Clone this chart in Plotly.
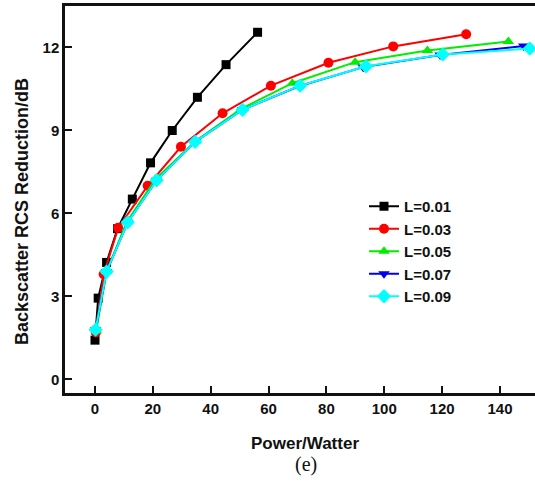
import plotly.graph_objects as go

# Data
x_l001 = [0, 1.1, 4.0, 7.8, 12.9, 19.2, 26.7, 35.4, 45.3, 56.2]
y_l001 = [1.42, 2.94, 4.23, 5.45, 6.52, 7.83, 9.0, 10.2, 11.38, 12.55]

x_l003 = [0.3, 3.0, 8.0, 18.2, 29.7, 44.1, 60.8, 80.7, 103.1, 128.3]
y_l003 = [1.7, 3.8, 5.48, 7.0, 8.41, 9.62, 10.62, 11.45, 12.04, 12.48]

x_l005 = [0.4, 4.0, 11.0, 21.0, 34.8, 50.5, 68.2, 89.9, 114.9, 142.9]
y_l005 = [1.75, 3.9, 5.7, 7.25, 8.62, 9.78, 10.71, 11.47, 11.89, 12.22]

x_l007 = [0.2, 4.0, 11.3, 21.3, 34.6, 51.0, 70.5, 92.7, 119.3, 148.2]
y_l007 = [1.8, 3.9, 5.68, 7.2, 8.59, 9.75, 10.6, 11.29, 11.73, 12.05]

x_l009 = [0.2, 4.0, 11.3, 21.3, 34.6, 51.0, 70.9, 93.7, 120.2, 150.3]
y_l009 = [1.8, 3.9, 5.68, 7.2, 8.59, 9.75, 10.62, 11.32, 11.75, 11.96]

series_names = ["L=0.01", "L=0.03", "L=0.05", "L=0.07", "L=0.09"]
x_ticks = [0, 20, 40, 60, 80, 100, 120, 140]
y_ticks = [0, 3, 6, 9, 12]

series = [
    (x_l001, y_l001, "#000000", "square", 9),
    (x_l003, y_l003, "#ff0000", "circle", 10),
    (x_l005, y_l005, "#00ee00", "triangle-up", 10),
    (x_l007, y_l007, "#0000ee", "triangle-down", 10),
    (x_l009, y_l009, "#00ffff", "diamond", 11),
]

fig = go.Figure()
for name, (xs, ys, col, sym, sz) in zip(series_names, series):
    fig.add_trace(go.Scatter(
        x=xs, y=ys, name=name, mode="lines+markers",
        line=dict(color=col, width=2),
        marker=dict(symbol=sym, size=sz, color=col),
    ))

font_family = "Liberation Sans, Arial, sans-serif"

fig.update_layout(
    width=535, height=487,
    margin=dict(l=65, r=0, t=6, b=94),
    paper_bgcolor="white", plot_bgcolor="white",
    font=dict(family=font_family, color="#111111", size=15),
    showlegend=True,
    legend=dict(
        x=(364 - 65) / 470, y=(393 - 190) / 387, xanchor="left", yanchor="top",
        bgcolor="rgba(0,0,0,0)", borderwidth=0,
        font=dict(family=font_family, size=15, weight="bold", color="#111111"),
        itemwidth=30,
    ),
    xaxis=dict(
        range=[-10.37, 152.1], tickvals=x_ticks,
        ticks="inside", ticklen=7, tickwidth=2, tickcolor="#111111",
        showline=True, linecolor="#111111", linewidth=2.5, mirror=True,
        showgrid=False, zeroline=False,
        tickfont=dict(family=font_family, size=15, weight="bold", color="#111111"),
    ),
    yaxis=dict(
        range=[-0.49, 13.5], tickvals=y_ticks,
        ticks="inside", ticklen=7, tickwidth=2, tickcolor="#111111",
        showline=True, linecolor="#111111", linewidth=2.5, mirror=False,
        showgrid=False, zeroline=False,
        tickfont=dict(family=font_family, size=15, weight="bold", color="#111111"),
    ),
    annotations=[
        dict(text="Power/Watter", xref="paper", yref="paper",
             x=(305 - 65) / 470, y=(393 - 443) / 387, xanchor="center", yanchor="middle",
             showarrow=False,
             font=dict(family=font_family, size=17, weight="bold", color="#111111")),
        dict(text="Backscatter RCS Reduction/dB", xref="paper", yref="paper",
             x=(22 - 65) / 470, y=(393 - 212) / 387, xanchor="center", yanchor="middle",
             textangle=-90, showarrow=False,
             font=dict(family=font_family, size=18, weight="bold", color="#111111")),
        dict(text="(e)", xref="paper", yref="paper",
             x=(306 - 65) / 470, y=(393 - 465) / 387, xanchor="center", yanchor="middle",
             showarrow=False,
             font=dict(family="Liberation Serif, Times New Roman, serif", size=20, color="#111111")),
    ],
)

fig.write_html("out.html", config={"displayModeBar": False},
               post_script="document.body.style.margin='0px';")
